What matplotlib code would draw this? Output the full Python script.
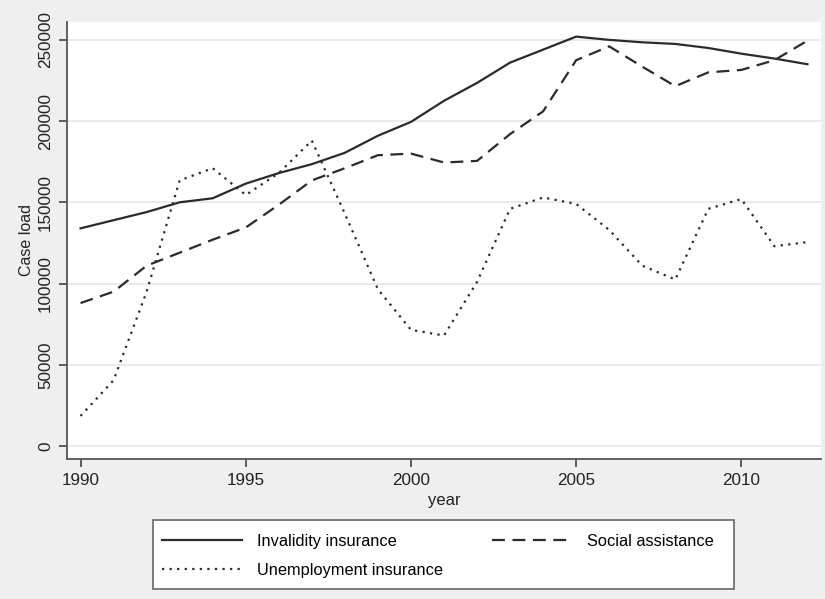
import numpy as np
import matplotlib
matplotlib.use("Agg")
from matplotlib import pyplot as plt
from matplotlib.patches import Rectangle

# case load per year
years = list(range(1990, 2013))
invalidity = [134000, 139000, 144000, 150000, 152500, 161500, 168000, 173500,
              180500, 191000, 199500, 212500, 223500, 236000, 244000, 252000,
              250000, 248500, 247500, 245000, 241500, 238500, 235000]
social = [88000, 95000, 111000, 119000, 127000, 134500, 148500, 163500,
          171000, 179000, 180000, 174500, 175500, 192000, 206000, 237500,
          246000, 233500, 221500, 230000, 231500, 237500, 249500]
unemployment = [18500, 40500, 95000, 163500, 171000, 154500, 168000, 188000,
                143000, 96500, 71500, 68000, 101000, 146000, 153000, 149000,
                133000, 111000, 102500, 146000, 152000, 123000, 125500]
y_ticks = [0, 50000, 100000, 150000, 200000, 250000]
x_ticks = [1990, 1995, 2000, 2005, 2010]

plt.rcParams['font.family'] = ['Liberation Sans', 'DejaVu Sans']
bg = '#efefef'
ink = '#2b2b2b'
W, H = 825.0, 599.0

fig = plt.figure(figsize=(8.25, 5.99), dpi=100, facecolor=bg)
ax = fig.add_axes([67 / W, 1 - 459 / H, (821 - 67) / W, (459 - 22) / H])
ax.set_facecolor('white')

l1, = ax.plot(years, invalidity, color=ink, lw=1.6, linestyle='-',
              label='Invalidity insurance')
l2, = ax.plot(years, social, color=ink, lw=1.6, linestyle=(0, (5.8, 3.4)),
              label='Social assistance')
l3, = ax.plot(years, unemployment, color=ink, lw=1.6, linestyle=(0, (1, 2.4)),
              label='Unemployment insurance')

ax.set_xlim(1989.59, 2012.41)
ax.set_ylim(-8000, 261000)
ax.set_yticks(y_ticks)
ax.set_yticklabels([str(v) for v in y_ticks], rotation=90, va='center')
ax.set_xticks(x_ticks)
ax.tick_params(axis='both', direction='out', length=6, width=1.2,
               color='#444444', labelsize=12.3, labelcolor='#222222', pad=4)
ax.grid(axis='y', color='#e6e6e6', linewidth=1.2)
ax.set_axisbelow(True)
for side in ['top', 'right']:
    ax.spines[side].set_visible(False)
for side in ['left', 'bottom']:
    ax.spines[side].set_color('#555555')
    ax.spines[side].set_linewidth(1.3)

ax.set_ylabel('Case load', fontsize=11.5, color='#222222', labelpad=3)
ax.set_xlabel('year', fontsize=12, color='#222222', labelpad=4)

# legend box drawn by hand (Stata style, wider than its entries)
fig.patches.append(Rectangle((153 / W, 1 - 589 / H), 581 / W, 69 / H,
                             transform=fig.transFigure, facecolor='white',
                             edgecolor='#666666', linewidth=1.2, zorder=1))
leg = fig.legend([l1, l3, l2],
                 ['Invalidity insurance', 'Unemployment insurance',
                  'Social assistance'],
                 ncol=2, loc='upper left',
                 bbox_to_anchor=(162 / W, 1 - 534 / H),
                 fontsize=11.8, frameon=False, borderpad=0, borderaxespad=0,
                 handlelength=4.9, handletextpad=0.9, columnspacing=3.0,
                 labelspacing=0.85)
leg.set_zorder(2)

fig.savefig('out.png', dpi=100, facecolor=bg)
